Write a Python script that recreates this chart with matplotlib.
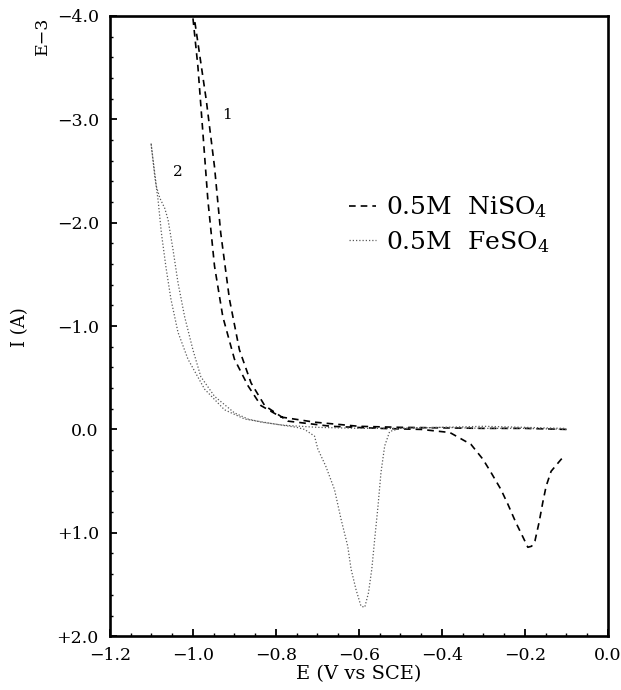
import matplotlib
matplotlib.use("Agg")
import matplotlib.pyplot as plt
from matplotlib.ticker import MultipleLocator, FuncFormatter

plt.rcParams['font.family'] = ['DejaVu Serif']
plt.rcParams['mathtext.fontset'] = 'dejavuserif'

# NiSO4 (curve 1): forward scan (toward negative) then reverse scan
ni_E = [-0.10, -0.20, -0.30, -0.40, -0.50, -0.60, -0.707, -0.788, -0.836, -0.867,
        -0.900, -0.928, -0.948, -0.964, -0.976, -0.988, -1.000, -1.003,
        -0.996, -0.968, -0.948, -0.933, -0.912, -0.888, -0.860, -0.827, -0.771,
        -0.667, -0.55, -0.45, -0.381, -0.33, -0.301, -0.282, -0.258, -0.241,
        -0.222, -0.205, -0.193, -0.184, -0.176, -0.166, -0.157, -0.149, -0.137,
        -0.113, -0.105]
ni_I = [0.0, -0.01, -0.01, -0.015, -0.02, -0.03, -0.07, -0.12, -0.23, -0.42,
        -0.68, -1.09, -1.58, -2.22, -2.87, -3.51, -3.98, -4.20,
        -3.96, -3.19, -2.54, -1.90, -1.26, -0.77, -0.45, -0.23, -0.08,
        -0.03, -0.01, 0.0, 0.03, 0.145, 0.29, 0.415, 0.58, 0.725,
        0.90, 1.04, 1.14, 1.13, 1.08, 0.90, 0.705, 0.55, 0.405,
        0.29, 0.26]

# FeSO4 (curve 2)
fe_E = [-0.10, -0.20, -0.30, -0.40, -0.50, -0.60, -0.70, -0.78, -0.835, -0.867,
        -0.900, -0.948, -0.981, -1.000, -1.020, -1.036, -1.048, -1.060, -1.068,
        -1.080, -1.088, -1.101,
        -1.092, -1.084, -1.076, -1.065, -1.053, -1.036, -1.012, -0.972, -0.924,
        -0.875, -0.80, -0.75, -0.731, -0.707, -0.699, -0.680, -0.659, -0.643,
        -0.627, -0.619, -0.607, -0.595, -0.586, -0.577, -0.569, -0.562, -0.554,
        -0.547, -0.538, -0.526, -0.50, -0.40, -0.30, -0.20, -0.105]
fe_I = [0.0, -0.01, -0.01, -0.02, -0.01, -0.01, -0.02, -0.04, -0.07, -0.10,
        -0.16, -0.32, -0.51, -0.77, -1.09, -1.42, -1.74, -2.03, -2.14,
        -2.24, -2.35, -2.77,
        -2.45, -2.22, -1.90, -1.57, -1.26, -0.94, -0.68, -0.39, -0.19,
        -0.10, -0.05, -0.02, 0.0, 0.065, 0.19, 0.355, 0.58, 0.87,
        1.13, 1.35, 1.55, 1.71, 1.72, 1.58, 1.35, 1.06, 0.74,
        0.42, 0.16, 0.02, -0.01, -0.02, -0.03, -0.02, -0.01]

labels = ['0.5M  NiSO$_4$', '0.5M  FeSO$_4$']
x_ticks = [-1.2, -1.0, -0.8, -0.6, -0.4, -0.2, 0.0]
y_ticks = [-4.0, -3.0, -2.0, -1.0, 0.0, 1.0, 2.0]

fig = plt.figure(figsize=(6.21, 6.90), dpi=100)
ax = fig.add_axes([0.177, 0.078, 0.802, 0.899])

ax.plot(ni_E, ni_I, color='black', lw=1.2, linestyle=(0, (4, 3)), label=labels[0])
ax.plot(fe_E, fe_I, color='0.35', lw=0.9, linestyle=(0, (1, 1.6)), label=labels[1])

ax.set_xlim(-1.2, 0.0)
ax.set_ylim(2.0, -4.0)
ax.set_xticks(x_ticks)
ax.set_yticks(y_ticks)
ax.xaxis.set_minor_locator(MultipleLocator(0.05))
ax.yaxis.set_minor_locator(MultipleLocator(0.2))


def xfmt(v, pos):
    s = f"{abs(v):.1f}"
    return ("\u2212" + s) if v < -1e-9 else s


def yfmt(v, pos):
    s = f"{abs(v):.1f}"
    if v < -1e-9:
        return "\u2212" + s
    if v > 1e-9:
        return "+" + s
    return s


ax.xaxis.set_major_formatter(FuncFormatter(xfmt))
ax.yaxis.set_major_formatter(FuncFormatter(yfmt))
ax.tick_params(which='both', direction='in', top=False, right=False, labelsize=12.5)
ax.tick_params(which='major', length=5, width=1.3, pad=8)
ax.tick_params(which='minor', length=2.5, width=1.0)
for sp in ax.spines.values():
    sp.set_linewidth(1.9)

ax.set_xlabel('E (V vs SCE)', fontsize=14, labelpad=0.5)
fig.text(0.032, 0.526, 'I (A)', rotation=90, fontsize=13, ha='center', va='center')
fig.text(0.069, 0.948, 'E\u22123', rotation=90, fontsize=12.5, ha='center', va='center')

ax.text(-0.918, -3.04, '1', fontsize=11, ha='center', va='center')
ax.text(-1.036, -2.49, '2', fontsize=11, ha='center', va='center')

leg = ax.legend(loc='upper left', bbox_to_anchor=(0.459, 0.728), frameon=False,
                fontsize=18, handlelength=1.1, handletextpad=0.4,
                labelspacing=0.35, borderaxespad=0)

fig.savefig('out.png', dpi=100)
